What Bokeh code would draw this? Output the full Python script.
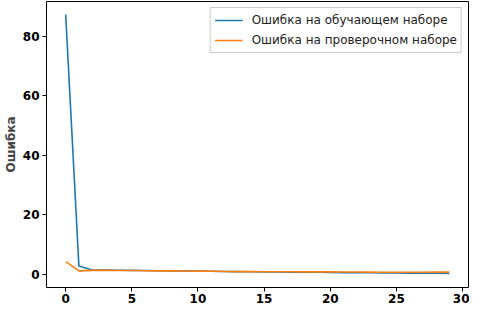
from bokeh.plotting import figure
from bokeh.models import Range1d, Legend, LegendItem, FixedTicker
from bokeh.embed import file_html
from bokeh.resources import INLINE

epochs = list(range(30))
train_loss = [87.3, 2.8, 1.5, 1.45, 1.4, 1.35, 1.3, 1.25, 1.2, 1.15,
              1.1, 1.05, 1.0, 0.95, 0.9, 0.85, 0.8, 0.78, 0.75, 0.7,
              0.65, 0.6, 0.58, 0.55, 0.5, 0.45, 0.42, 0.4, 0.38, 0.35]
val_loss = [4.3, 1.2, 1.35, 1.35, 1.3, 1.3, 1.25, 1.2, 1.2, 1.15,
            1.1, 1.05, 1.0, 0.95, 0.95, 0.9, 0.9, 0.9, 0.85, 0.85,
            0.85, 0.8, 0.8, 0.75, 0.7, 0.7, 0.7, 0.7, 0.75, 0.75]
x_ticks = [0, 5, 10, 15, 20, 25, 30]
y_ticks = [0, 20, 40, 60, 80]
label_train = "Ошибка на обучающем наборе"
label_val = "Ошибка на проверочном наборе"
y_label = "Ошибка"

p = figure(width=469, height=305, output_backend="svg", toolbar_location=None,
           x_range=Range1d(-1.45, 30.45), y_range=Range1d(-4.4, 91.7),
           min_border_left=0, min_border_right=1, min_border_top=1, min_border_bottom=0)
p.grid.visible = False
p.outline_line_color = "black"
p.outline_line_width = 1

r1 = p.line(epochs, train_loss, line_color="#1f77b4", line_width=1.6)
r2 = p.line(epochs, val_loss, line_color="#ff7f0e", line_width=1.6)

for ax in (p.xaxis[0], p.yaxis[0]):
    ax.major_label_text_font = "DejaVu Sans"
    ax.major_label_text_font_size = "12px"
    ax.major_label_text_font_style = "bold"
    ax.major_label_text_color = "black"
    ax.axis_line_color = None
    ax.major_tick_out = 4
    ax.major_tick_in = 0
    ax.minor_tick_out = 0
    ax.minor_tick_in = 0
    ax.major_tick_line_color = "black"
p.xaxis[0].ticker = FixedTicker(ticks=x_ticks)
p.yaxis[0].ticker = FixedTicker(ticks=y_ticks)
p.xaxis[0].major_label_standoff = 2
p.yaxis[0].major_label_standoff = 3
p.yaxis[0].axis_label = y_label
p.yaxis[0].axis_label_text_font = "DejaVu Sans"
p.yaxis[0].axis_label_text_font_size = "12px"
p.yaxis[0].axis_label_text_font_style = "bold"
p.yaxis[0].axis_label_standoff = 2

legend = Legend(items=[LegendItem(label=label_train, renderers=[r1]),
                       LegendItem(label=label_val, renderers=[r2])],
                location="top_right")
legend.label_text_font = "DejaVu Sans"
legend.label_text_font_size = "12px"
legend.label_text_color = "#222222"
legend.border_line_color = "#cccccc"
legend.border_line_alpha = 1
legend.background_fill_alpha = 0.8
legend.glyph_width = 28
legend.glyph_height = 16
legend.spacing = 4
legend.padding = 4
legend.margin = 6
legend.label_standoff = 9
legend.label_height = 16
p.add_layout(legend)

open("out.html", "w").write(file_html(p, INLINE))
